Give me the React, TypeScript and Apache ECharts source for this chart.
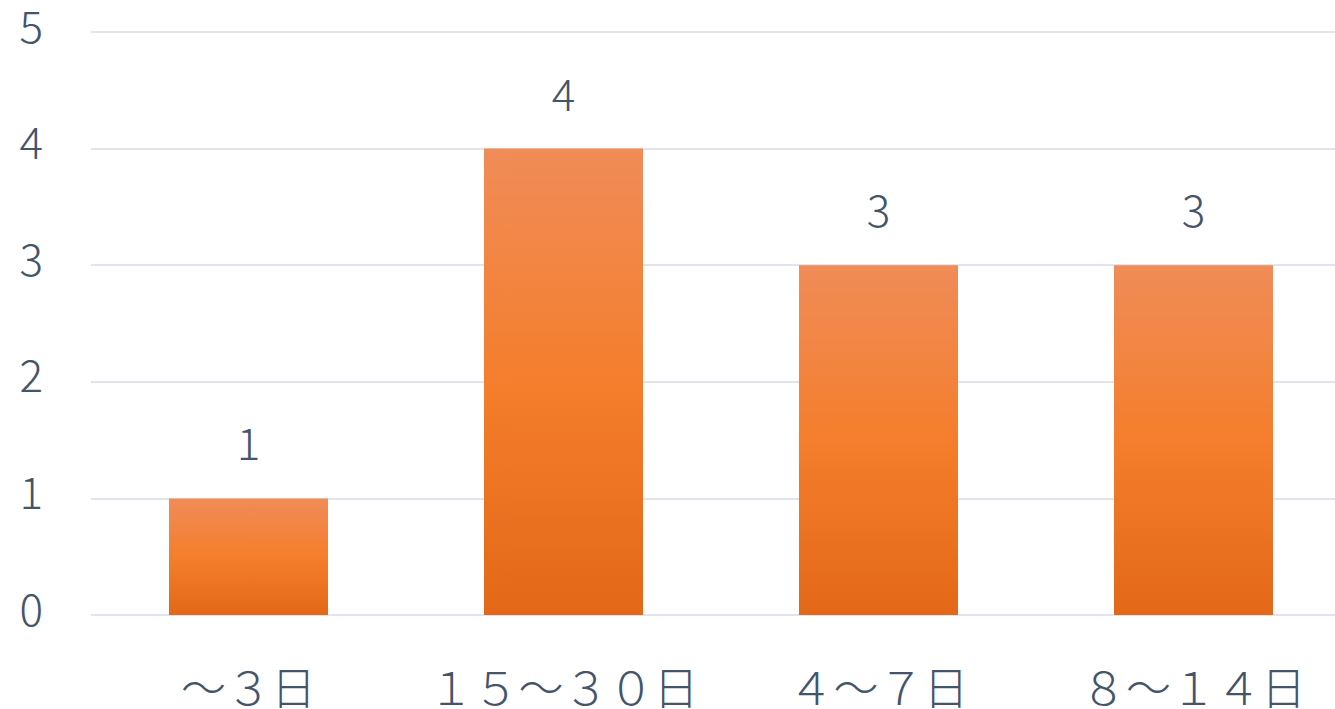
import React, { useEffect, useRef } from "react";
import * as echarts from "echarts";

const categories = ["～３日", "１５～３０日", "４～７日", "８～１４日"];
const values = [1, 4, 3, 3];
const yTicks = [0, 1, 2, 3, 4, 5];

const textColor = "#44546A";
const fontFamily = '"Noto Sans CJK JP", "Noto Sans", sans-serif';

export default function App() {
  const ref = useRef<HTMLDivElement>(null);
  useEffect(() => {
    if (!ref.current) return;
    const chart = echarts.init(ref.current, null, { renderer: "svg" });
    chart.setOption({
      animation: false,
      backgroundColor: "#FFFFFF",
      grid: { left: 91, right: 0, top: 32, bottom: 94, containLabel: false },
      xAxis: {
        type: "category",
        data: categories,
        axisLine: { show: false },
        axisTick: { show: false },
        axisLabel: {
          interval: 0,
          color: textColor,
          fontSize: 45,
          lineHeight: 36,
          fontWeight: 300,
          fontFamily,
          margin: 52,
        },
      },
      yAxis: {
        type: "value",
        min: yTicks[0],
        max: yTicks[yTicks.length - 1],
        interval: 1,
        axisLine: { show: false },
        axisTick: { show: false },
        splitLine: { lineStyle: { color: "#E1E5EB", width: 2 } },
        axisLabel: {
          color: textColor,
          fontSize: 44,
          lineHeight: 17,
          verticalAlign: "bottom",
          fontWeight: 300,
          fontFamily,
          margin: 48,
        },
      },
      series: [
        {
          type: "bar",
          data: values,
          barWidth: 159,
          itemStyle: {
            color: new echarts.graphic.LinearGradient(0, 0, 0, 1, [
              { offset: 0, color: "#F08C58" },
              { offset: 0.5, color: "#F47E2C" },
              { offset: 1, color: "#E36818" },
            ]),
          },
          label: {
            show: true,
            position: "top",
            distance: 35,
            color: textColor,
            fontSize: 44,
            fontWeight: 300,
            fontFamily,
          },
        },
      ],
    });
    return () => chart.dispose();
  }, []);
  return (
    <div
      style={{
        position: "fixed",
        left: 0,
        top: 0,
        width: 1335,
        height: 709,
        overflow: "hidden",
        background: "#FFFFFF",
      }}
    >
      <div ref={ref} style={{ width: 1351, height: 709 }} />
    </div>
  );
}
